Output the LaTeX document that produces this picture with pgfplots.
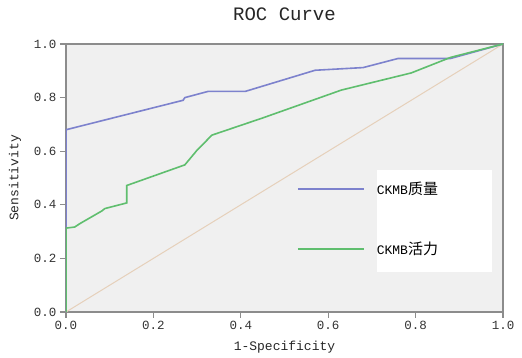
\documentclass[border=0pt]{standalone}
\usepackage{pgfplots}
\pgfplotsset{compat=1.18}
\usepackage{fontspec}
\setmainfont{Liberation Mono}
\newfontfamily\cjk{Noto Sans CJK SC}
\definecolor{bgray}{RGB}{240,240,240}
\definecolor{framec}{RGB}{140,140,140}
\definecolor{curveblue}{RGB}{125,130,205}
\definecolor{curvegreen}{RGB}{95,190,110}
\definecolor{diagc}{RGB}{230,208,186}
\begin{document}
\begin{tikzpicture}
\useasboundingbox (-66pt,-46pt) rectangle (456pt,312pt);
\begin{axis}[
  scale only axis,
  width=437pt, height=268pt,
  at={(0pt,0pt)}, anchor=south west,
  xmin=0, xmax=1, ymin=0, ymax=1,
  axis background/.style={fill=bgray},
  axis line style={framec, line width=1.2pt},
  xtick={0,0.2,0.4,0.6,0.8,1.0},
  ytick={0,0.2,0.4,0.6,0.8,1.0},
  xtick pos=bottom, ytick pos=left,
  tick align=outside,
  major tick length=6pt,
  tick style={framec, line width=1.2pt},
  /pgf/number format/assume math mode=true,
  /pgf/number format/.cd, fixed, fixed zerofill, precision=1,
  /pgfplots/.cd,
  ticklabel style={font=\fontsize{12.5}{14}\selectfont, text=black!80},
  title={ROC Curve},
  title style={at={(axis description cs:0.5,1)}, anchor=base, yshift=17pt, font=\fontsize{19}{22}\selectfont, text=black!85},
  xlabel={1-Specificity},
  xlabel style={at={(axis description cs:0.5,-0.1418)}, anchor=base, font=\fontsize{13}{15}\selectfont, text=black!85},
  ylabel={Sensitivity},
  ylabel style={at={(axis description cs:-0.1167,0.5)}, anchor=center, font=\fontsize{13}{15}\selectfont, text=black!85},
  legend style={draw=none, fill=none, at={(axis description cs:0.5286,0.347)}, anchor=west,
    inner sep=0pt, row sep=42pt, column sep=0pt,
    font=\fontsize{13}{15}\selectfont, cells={anchor=west}},
  legend image code/.code={\draw[#1] (0pt,0pt) -- (66pt,0pt);},
]
\fill[white] (axis cs:0.7117,0.1493) rectangle (axis cs:0.9748,0.5299);
\addplot[diagc, line width=1pt, forget plot] coordinates {(0,0) (1,1)};
\addplot[curveblue, line width=1.6pt] coordinates {
(0,0) (0,0.68) (0.268,0.79) (0.272,0.80) (0.325,0.823) (0.41,0.823)
(0.57,0.902) (0.68,0.912) (0.76,0.946) (0.88,0.946) (1,1)};
\addlegendentry{\hspace{10pt}CKMB{\cjk\fontsize{15}{15}\selectfont 质量}}
\addplot[curvegreen, line width=1.6pt] coordinates {
(0,0) (0,0.313) (0.02,0.317) (0.032,0.33) (0.082,0.377) (0.089,0.386)
(0.139,0.407) (0.139,0.472) (0.272,0.549) (0.30,0.604) (0.334,0.66)
(0.45,0.724) (0.63,0.828) (0.79,0.892) (0.88,0.95) (1,1)};
\addlegendentry{\hspace{10pt}CKMB{\cjk\fontsize{15}{15}\selectfont 活力}}
\end{axis}
\end{tikzpicture}
\end{document}
